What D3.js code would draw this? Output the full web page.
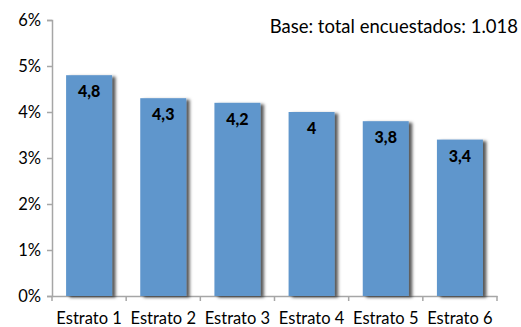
<!DOCTYPE html>
<html lang="es">
<head>
<meta charset="UTF-8">
<title>Estratos</title>
<script src="https://cdn.jsdelivr.net/npm/d3@7"></script>
<style>
  body { margin: 0; background: #fff; }
  svg { display: block; }
  .axis path, .axis line { stroke: #a6a6a6; stroke-width: 1.5; }
  .axis text { font-family: Lato, "Open Sans", sans-serif; font-size: 16.5px; fill: #000; }
</style>
</head>
<body>
<svg id="chart" width="521" height="327"></svg>
<script>
// datos del gráfico
var categorias = ["Estrato 1", "Estrato 2", "Estrato 3", "Estrato 4", "Estrato 5", "Estrato 6"];
var valores = [4.8, 4.3, 4.2, 4, 3.8, 3.4];
var etiquetas = ["4,8", "4,3", "4,2", "4", "3,8", "3,4"];
var ticksY = [0, 1, 2, 3, 4, 5, 6];
var nota = "Base: total encuestados: 1.018";

var svg = d3.select("#chart");
var mIzq = 52, mDer = 497, mSup = 20, mInf = 296;

var x = d3.scaleBand().domain(categorias).range([mIzq, mDer])
    .paddingInner(0.38).paddingOuter(0.19);
var y = d3.scaleLinear().domain([0, 6]).range([mInf, mSup]);

var defs = svg.append("defs");
var f = defs.append("filter").attr("id", "sombra")
    .attr("x", "-20%").attr("y", "-10%").attr("width", "150%").attr("height", "120%");
f.append("feDropShadow").attr("dx", 3.5).attr("dy", 1.5).attr("stdDeviation", 1.8)
    .attr("flood-color", "#000").attr("flood-opacity", 0.65);

svg.append("g").attr("class", "axis")
    .attr("transform", "translate(" + mIzq + ",0)")
    .call(d3.axisLeft(y).tickValues(ticksY).tickSize(5).tickPadding(6)
        .tickFormat(function (d) { return d + "%"; }));

svg.append("g").attr("class", "axis")
    .attr("transform", "translate(0," + mInf + ")")
    .call(d3.axisBottom(x).tickSize(0).tickPadding(16))
    .call(function (g) {
        g.selectAll(".tick line").remove();
        g.selectAll(".bt").data(d3.range(categorias.length + 1)).enter().append("line")
            .attr("x1", function (i) { return mIzq + i * x.step(); })
            .attr("x2", function (i) { return mIzq + i * x.step(); })
            .attr("y1", 0).attr("y2", 5);
    });

var datos = categorias.map(function (c, i) {
    return {cat: c, val: valores[i], lab: etiquetas[i]};
});

svg.append("g").selectAll("rect").data(datos).enter().append("rect")
    .attr("x", function (d) { return x(d.cat); })
    .attr("y", function (d) { return y(d.val); })
    .attr("width", x.bandwidth())
    .attr("height", function (d) { return y(0) - y(d.val); })
    .attr("fill", "#5f96cc")
    .attr("filter", "url(#sombra)");

svg.append("g").selectAll("text").data(datos).enter().append("text")
    .attr("x", function (d) { return x(d.cat) + x.bandwidth() / 2; })
    .attr("y", function (d) { return y(d.val) + 22; })
    .attr("text-anchor", "middle")
    .style("font-family", "Lato, 'Open Sans', sans-serif")
    .style("font-weight", "900")
    .style("font-size", "16px")
    .text(function (d) { return d.lab; });

svg.append("text")
    .attr("x", 518).attr("y", 33)
    .attr("text-anchor", "end")
    .style("font-family", "Lato, 'Open Sans', sans-serif")
    .style("font-size", "18.5px")
    .text(nota);
</script>
</body>
</html>
